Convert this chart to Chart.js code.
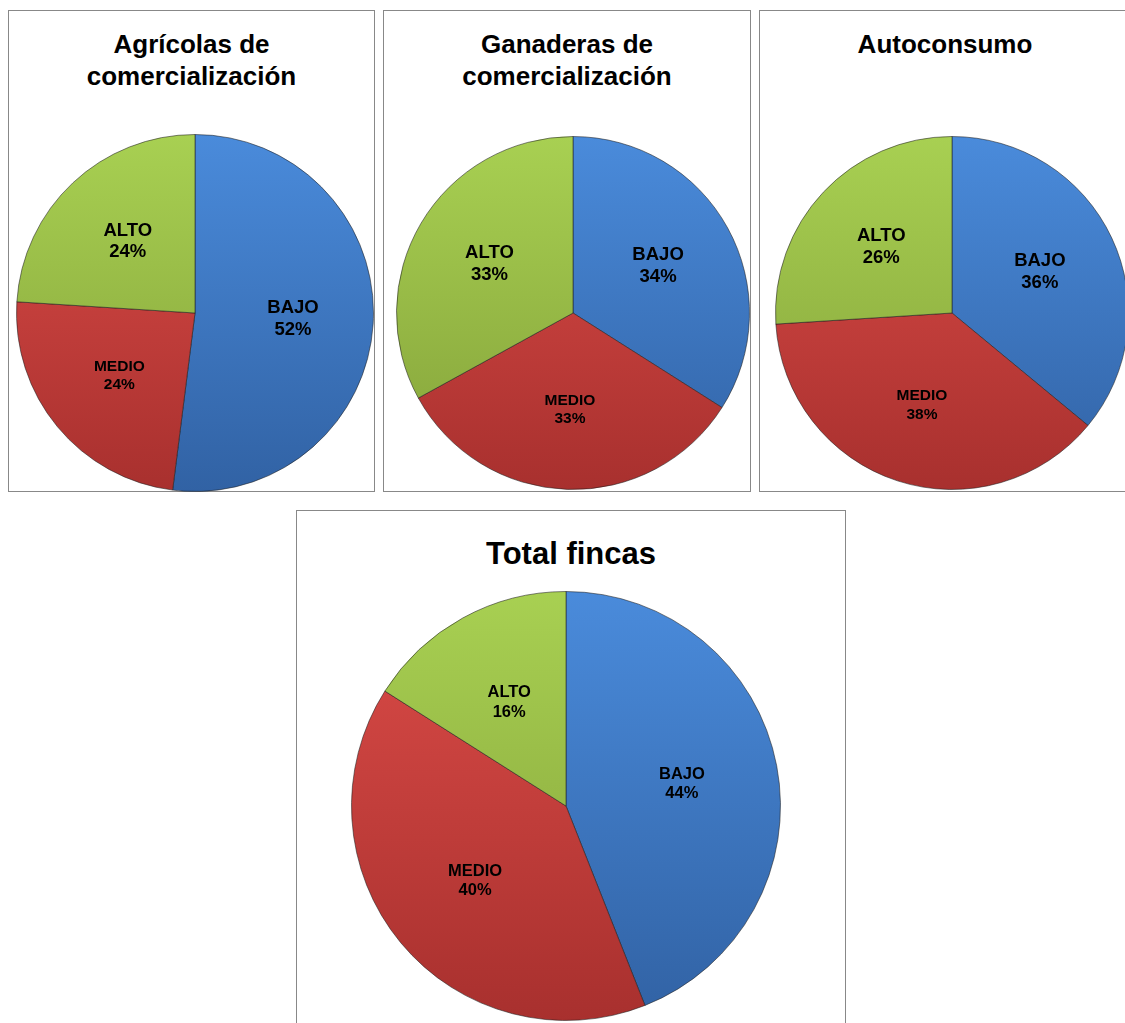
<!DOCTYPE html>
<html>
<head>
<meta charset="utf-8">
<script src="https://cdn.jsdelivr.net/npm/chart.js@4.4.1/dist/chart.umd.min.js"></script>
<style>
  html, body { margin: 0; padding: 0; background: #fff; overflow: hidden; }
  body { width: 1125px; height: 1023px; position: relative; font-family: 'Liberation Sans', Arial, sans-serif; }
  .panel { position: absolute; border: 1.5px solid #888; box-sizing: border-box; background: #fff; }
  .title { position: absolute; text-align: center; font-weight: bold; color: #000; }
  canvas { position: absolute; }
</style>
</head>
<body>
<div class="panel" style="left:8px; top:10px; width:367px; height:482px;"></div>
<div class="panel" style="left:383px; top:10px; width:368px; height:482px;"></div>
<div class="panel" style="left:759px; top:10px; width:372px; height:482px;"></div>
<div class="panel" style="left:296px; top:510px; width:550px; height:520px;"></div>

<div class="title" style="left:8px; width:367px; top:28px; font-size:26px; line-height:32px;">Agrícolas de<br>comercialización</div>
<div class="title" style="left:383px; width:368px; top:28px; font-size:26px; line-height:32px;">Ganaderas de<br>comercialización</div>
<div class="title" style="left:759px; width:372px; top:28px; font-size:26px; line-height:32px;">Autoconsumo</div>
<div class="title" style="left:296px; width:550px; top:536px; font-size:31px; line-height:36px;">Total fincas</div>

<canvas id="c1" width="358" height="358" style="left:16px; top:134px;"></canvas>
<canvas id="c2" width="354" height="354" style="left:396px; top:136px;"></canvas>
<canvas id="c3" width="354" height="354" style="left:775px; top:136px;"></canvas>
<canvas id="c4" width="430" height="430" style="left:351px; top:591px;"></canvas>

<script>
const categories = ['BAJO', 'MEDIO', 'ALTO'];
const agricolas = [52, 24, 24];
const ganaderas = [34, 33, 33];
const autoconsumo = [36, 38, 26];
const totalFincas = [44, 40, 16];

// top / bottom shades for the bevelled look
const topColors = ['#4a8bdb', '#dc4c48', '#a8d052'];
const bottomColors = ['#3162a4', '#a8302e', '#84a139'];

function sliceColor(ctx) {
    const chart = ctx.chart;
    const area = chart.chartArea;
    const i = ctx.dataIndex;
    if (!area) return topColors[i];
    const g = chart.ctx.createLinearGradient(0, area.top, 0, area.bottom);
    g.addColorStop(0, topColors[i]);
    g.addColorStop(1, bottomColors[i]);
    return g;
}

const labelPlugin = {
    id: 'sliceLabels',
    afterDatasetsDraw(chart, args, opts) {
        const ctx = chart.ctx;
        const meta = chart.getDatasetMeta(0);
        const data = chart.data.datasets[0].data;
        meta.data.forEach((arc, i) => {
            const p = arc.getProps(['x', 'y', 'startAngle', 'endAngle', 'outerRadius']);
            const mid = (p.startAngle + p.endAngle) / 2;
            const x = p.x + Math.cos(mid) * p.outerRadius * opts.dist;
            const y = p.y + Math.sin(mid) * p.outerRadius * opts.dist;
            const size = (opts.sizes && opts.sizes[i]) || opts.size;
            const gap = size * 0.59;
            ctx.save();
            ctx.fillStyle = '#000';
            ctx.textAlign = 'center';
            ctx.textBaseline = 'middle';
            ctx.font = 'bold ' + size + 'px "Liberation Sans", Arial, sans-serif';
            ctx.fillText(chart.data.labels[i], x, y - gap);
            ctx.fillText(data[i] + '%', x, y + gap);
            ctx.restore();
        });
    }
};

function makePie(id, values, labelOpts) {
    return new Chart(document.getElementById(id), {
        type: 'pie',
        data: {
            labels: categories,
            datasets: [{
                data: values,
                backgroundColor: sliceColor,
                borderColor: 'rgba(30,30,30,0.55)',
                borderWidth: 1,
                hoverOffset: 0
            }]
        },
        options: {
            responsive: false,
            animation: false,
            layout: { padding: 0 },
            plugins: {
                legend: { display: false },
                tooltip: { enabled: false },
                title: { display: false },
                sliceLabels: labelOpts
            }
        },
        plugins: [labelPlugin]
    });
}

makePie('c1', agricolas, { dist: 0.55, size: 18.5, sizes: [18.5, 15.5, 18.5] });
makePie('c2', ganaderas, { dist: 0.55, size: 18.5, sizes: [18.5, 15.5, 18.5] });
makePie('c3', autoconsumo, { dist: 0.55, size: 18.5, sizes: [18.5, 15.5, 18.5] });
makePie('c4', totalFincas, { dist: 0.55, size: 16.5 });
</script>
</body>
</html>
